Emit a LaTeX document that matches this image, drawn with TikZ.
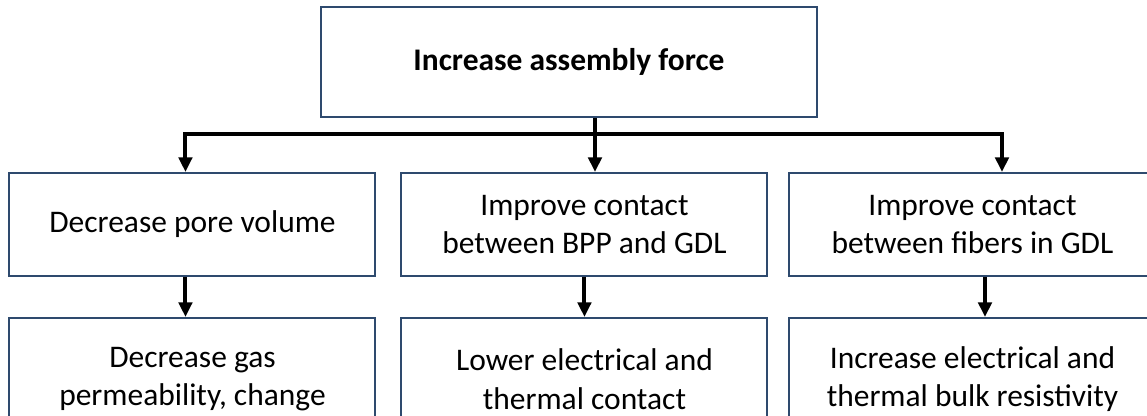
\documentclass[tikz,border=0pt]{standalone}
\usepackage{fontspec}
\setmainfont{Carlito}
\usetikzlibrary{arrows.meta,positioning}
\definecolor{boxline}{RGB}{46,74,110}
\tikzset{
    leads/.style={-{Triangle[length=11pt, width=10pt]}, line width=3pt, black},
    effect/.style={draw=boxline, line width=1.5pt, minimum width=274.5pt, minimum height=77.25pt, align=center, font=\fontsize{23.6}{28.9}\selectfont},
    outcome/.style={effect, minimum height=92pt}
}

\begin{document}
\begin{tikzpicture}[node distance=40.5pt]
    \useasboundingbox (0,0) rectangle (860.25pt,-312pt);
    \clip (0,0) rectangle (860.25pt,-312pt);
    \node[effect, minimum width=372pt, minimum height=82.5pt, font=\fontsize{23.6}{28.9}\selectfont\bfseries] (force) at (426.75pt,-46.5pt) {Increase assembly force};
    \node[effect, below=of force, xshift=11.6pt] (bpp) {Improve contact\\between BPP and GDL};
    \node[effect, left=18pt of bpp] (pore) {Decrease pore volume};
    \node[effect, right=15pt of bpp] (fibers) {Improve contact\\between fibers in GDL};
    \node[outcome, below=30pt of pore] (permeability) {Decrease gas\\permeability, change};
    \node[outcome, below=30pt of bpp] (contactres) {Lower electrical and\\thermal contact};
    \node[outcome, below=30pt of fibers] (bulk) {Increase electrical and\\thermal bulk resistivity};

    \coordinate (fork) at ([xshift=19.5pt, yshift=-12pt]force.south);
    \draw[leads] ([xshift=19.5pt]force.south) -- ([xshift=7.9pt]bpp.north);
    \draw[leads] (fork) -| ([xshift=-5.25pt]pore.north);
    \draw[leads] (fork) -| ([xshift=22.15pt]fibers.north);
    \draw[leads] ([xshift=-5.25pt]pore.south) -- ([xshift=-5.25pt]permeability.north);
    \draw[leads] (bpp.south) -- (contactres.north);
    \draw[leads] ([xshift=9.4pt]fibers.south) -- ([xshift=9.4pt]bulk.north);
\end{tikzpicture}
\end{document}
